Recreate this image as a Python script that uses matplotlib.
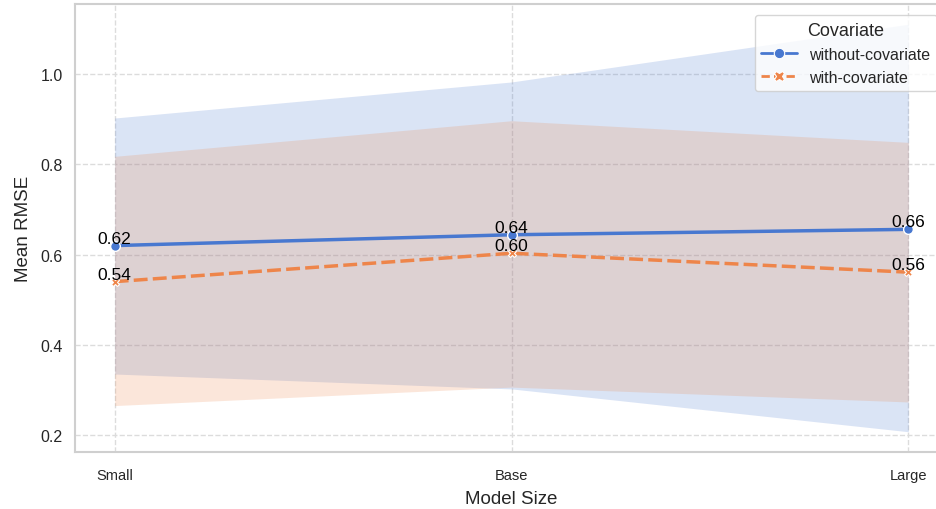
import matplotlib
matplotlib.use("Agg")
import matplotlib.pyplot as plt
from matplotlib.lines import Line2D
import seaborn as sns

sns.set_theme(style="whitegrid", palette="muted")
plt.rcParams['font.family'] = ['Liberation Sans', 'DejaVu Sans']

categories = ["Small", "Base", "Large"]
series_names = ["without-covariate", "with-covariate"]
mean_without = [0.620, 0.644, 0.656]
lower_without = [0.335, 0.302, 0.207]
upper_without = [0.903, 0.983, 1.111]
mean_with = [0.540, 0.603, 0.561]
lower_with = [0.265, 0.306, 0.273]
upper_with = [0.818, 0.897, 0.849]

blue = "#4878d0"
orange = "#ee854a"

fig = plt.figure(figsize=(9.36, 5.10), dpi=100)
ax = fig.add_axes([75/936, 1 - 453/510, (948 - 75)/936, (453 - 5)/510])

x = list(range(len(categories)))

ax.fill_between(x, lower_without, upper_without, color=blue, alpha=0.2, linewidth=0)
ax.fill_between(x, lower_with, upper_with, color=orange, alpha=0.2, linewidth=0)

ax.plot(x, mean_without, color=blue, lw=2.5, marker='o', ms=7, mec='white', mew=1, zorder=3)
ax.plot(x, mean_with, color=orange, lw=2.5, ls=(0, (4, 1.5)), marker='X', ms=6,
        mec='white', mew=0.8, zorder=3)

for xi, v in zip(x, mean_without):
    ax.text(xi, v, f"{v:.2f}", ha='center', va='bottom', fontsize=12.5, color='black', zorder=4)
for xi, v in zip(x, mean_with):
    ax.text(xi, v, f"{v:.2f}", ha='center', va='bottom', fontsize=12.5, color='black', zorder=4)

ax.set_xticks(x)
ax.set_xticklabels(categories)
ax.set_xlim(-0.1, 2.1)
ax.set_ylim(0.162, 1.156)
ax.set_yticks([0.2, 0.4, 0.6, 0.8, 1.0])
ax.tick_params(axis='x', pad=5.5, labelsize=10.5)
ax.tick_params(axis='y', labelsize=11.5, pad=3)
ax.set_xlabel("Model Size", fontsize=13.5, labelpad=6)
ax.set_ylabel("Mean RMSE", fontsize=13.5, labelpad=6)
ax.grid(True, linestyle='--', color='#dcdcdc', linewidth=1)
for s in ax.spines.values():
    s.set_color('#cfcfcf')
    s.set_linewidth(1.5)

handles = [
    Line2D([0], [0], color=blue, lw=2, marker='o', ms=7.5, mec='white', mew=0.8),
    Line2D([0], [0], color=orange, lw=2, ls=(0, (3, 1.5)), marker='X', ms=7.5, mec='white', mew=0.8),
]
leg = ax.legend(handles, series_names, title="Covariate", loc='upper right', fontsize=11.5,
                title_fontsize=13, frameon=True, borderaxespad=0.7, handlelength=2.2)

fig.savefig("out.png", dpi=100)
